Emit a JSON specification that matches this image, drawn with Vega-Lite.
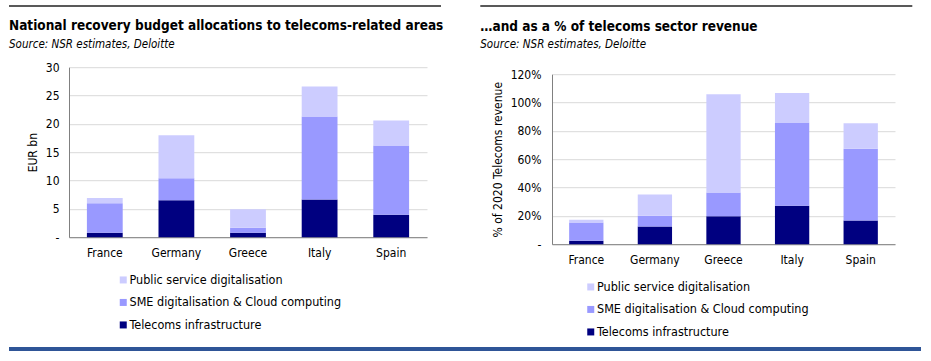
{
  "$schema": "https://vega.github.io/schema/vega-lite/v6.json",
  "padding": {"left": 7, "top": 5, "right": 0, "bottom": 0},
  "datasets": {
    "budget": [
      {"country": "France", "category": "Telecoms infrastructure", "value": 0.8},
      {"country": "France", "category": "SME digitalisation & Cloud computing", "value": 5.2},
      {"country": "France", "category": "Public service digitalisation", "value": 0.9},
      {"country": "Germany", "category": "Telecoms infrastructure", "value": 6.5},
      {"country": "Germany", "category": "SME digitalisation & Cloud computing", "value": 3.9},
      {"country": "Germany", "category": "Public service digitalisation", "value": 7.6},
      {"country": "Greece", "category": "Telecoms infrastructure", "value": 0.8},
      {"country": "Greece", "category": "SME digitalisation & Cloud computing", "value": 0.85},
      {"country": "Greece", "category": "Public service digitalisation", "value": 3.3},
      {"country": "Italy", "category": "Telecoms infrastructure", "value": 6.65},
      {"country": "Italy", "category": "SME digitalisation & Cloud computing", "value": 14.65},
      {"country": "Italy", "category": "Public service digitalisation", "value": 5.3},
      {"country": "Spain", "category": "Telecoms infrastructure", "value": 3.95},
      {"country": "Spain", "category": "SME digitalisation & Cloud computing", "value": 12.25},
      {"country": "Spain", "category": "Public service digitalisation", "value": 4.4}
    ],
    "share": [
      {"country": "France", "category": "Telecoms infrastructure", "value": 2.4},
      {"country": "France", "category": "SME digitalisation & Cloud computing", "value": 12.9},
      {"country": "France", "category": "Public service digitalisation", "value": 1.9},
      {"country": "Germany", "category": "Telecoms infrastructure", "value": 12.5},
      {"country": "Germany", "category": "SME digitalisation & Cloud computing", "value": 7.5},
      {"country": "Germany", "category": "Public service digitalisation", "value": 15.1},
      {"country": "Greece", "category": "Telecoms infrastructure", "value": 19.8},
      {"country": "Greece", "category": "SME digitalisation & Cloud computing", "value": 16.7},
      {"country": "Greece", "category": "Public service digitalisation", "value": 69.4},
      {"country": "Italy", "category": "Telecoms infrastructure", "value": 27.1},
      {"country": "Italy", "category": "SME digitalisation & Cloud computing", "value": 58.8},
      {"country": "Italy", "category": "Public service digitalisation", "value": 20.9},
      {"country": "Spain", "category": "Telecoms infrastructure", "value": 16.7},
      {"country": "Spain", "category": "SME digitalisation & Cloud computing", "value": 50.6},
      {"country": "Spain", "category": "Public service digitalisation", "value": 18.1}
    ],
    "ends": [{"v0": 0, "v1": 1}]
  },
  "concat": [
    {
      "concat": [
        {
          "concat": [
            {
              "width": 372, "height": 2,
              "data": {"name": "ends"},
              "view": {"fill": "#595959", "stroke": null},
              "mark": {"type": "rule", "strokeWidth": 2, "color": "#595959"},
              "encoding": {
                "x": {"field": "v0", "type": "quantitative", "scale": {"domain": [0, 1], "range": [-60, 372]}, "axis": null},
                "x2": {"field": "v1"}
              }
            },
            {
              "width": 358, "height": 170,
              "data": {"name": "budget"},
              "title": {
                "text": "National recovery budget allocations to telecoms-related areas",
                "subtitle": "Source: NSR estimates, Deloitte",
                "anchor": "start", "frame": "group", "dx": -60, "offset": 11
              },
              "mark": {"type": "bar"},
              "encoding": {
                "x": {"field": "country", "type": "nominal", "sort": ["France", "Germany", "Greece", "Italy", "Spain"],
                  "scale": {"paddingInner": 0.5, "paddingOuter": 0.25},
                  "axis": {"title": null, "labelAngle": 0, "ticks": false, "labelPadding": 10, "grid": false}},
                "y": {"field": "value", "type": "quantitative", "stack": "zero",
                  "scale": {"domain": [0, 30], "nice": false},
                  "axis": {"title": "EUR bn", "values": [0, 5, 10, 15, 20, 25, 30],
                    "labelExpr": "datum.value === 0 ? '-' : datum.label", "ticks": false, "labelPadding": 10, "titlePadding": 6}},
                "color": {"field": "category", "type": "nominal",
                  "scale": {"domain": ["Public service digitalisation", "SME digitalisation & Cloud computing", "Telecoms infrastructure"],
                    "range": ["#CCCCFF", "#9999FF", "#000080"]},
                  "legend": {"legendX": 48, "legendY": 206.5}},
                "order": {"field": "category", "sort": "descending"}
              }
            }
          ],
          "columns": 1, "spacing": 12.2, "align": "none",
          "resolve": {"scale": {"x": "independent", "y": "independent", "color": "independent"}, "legend": {"color": "independent"}}
        },
        {
          "concat": [
            {
              "width": 360, "height": 2,
              "data": {"name": "ends"},
              "view": {"fill": "#595959", "stroke": null},
              "mark": {"type": "rule", "strokeWidth": 2, "color": "#595959"},
              "encoding": {
                "x": {"field": "v0", "type": "quantitative", "scale": {"domain": [0, 1], "range": [-71.7, 360.3]}, "axis": null},
                "x2": {"field": "v1"}
              }
            },
            {
              "width": 343, "height": 170,
              "data": {"name": "share"},
              "title": {
                "text": "…and as a % of telecoms sector revenue",
                "subtitle": "Source: NSR estimates, Deloitte",
                "anchor": "start", "frame": "group", "dx": -71.7, "offset": 17.5
              },
              "mark": {"type": "bar"},
              "encoding": {
                "x": {"field": "country", "type": "nominal", "sort": ["France", "Germany", "Greece", "Italy", "Spain"],
                  "scale": {"paddingInner": 0.5, "paddingOuter": 0.25},
                  "axis": {"title": null, "labelAngle": 0, "ticks": false, "labelPadding": 10, "grid": false}},
                "y": {"field": "value", "type": "quantitative", "stack": "zero",
                  "scale": {"domain": [0, 120], "nice": false},
                  "axis": {"title": "% of 2020 Telecoms revenue", "values": [0, 20, 40, 60, 80, 100, 120],
                    "labelExpr": "datum.value === 0 ? '-' : datum.value + '%'", "ticks": false, "labelPadding": 11, "titlePadding": 6}},
                "color": {"field": "category", "type": "nominal",
                  "scale": {"domain": ["Public service digitalisation", "SME digitalisation & Cloud computing", "Telecoms infrastructure"],
                    "range": ["#CCCCFF", "#9999FF", "#000080"]},
                  "legend": {"legendX": 32.5, "legendY": 206.5}},
                "order": {"field": "category", "sort": "descending"}
              }
            }
          ],
          "columns": 1, "spacing": 12.2, "align": "none",
          "resolve": {"scale": {"x": "independent", "y": "independent", "color": "independent"}, "legend": {"color": "independent"}}
        }
      ],
      "columns": 2, "spacing": 35, "align": "none",
      "resolve": {"scale": {"x": "independent", "y": "independent", "color": "independent"}, "legend": {"color": "independent"}}
    },
    {
      "width": 852, "height": 4,
      "data": {"name": "ends"},
      "mark": {"type": "rule", "strokeWidth": 4, "color": "#2F5597"},
      "encoding": {
        "x": {"field": "v0", "type": "quantitative", "scale": {"domain": [0, 1], "range": [-60, 852]}, "axis": null},
        "x2": {"field": "v1"}
      }
    }
  ],
  "columns": 1, "spacing": 8, "align": "none",
  "resolve": {"scale": {"x": "independent", "y": "independent", "color": "independent"}, "legend": {"color": "independent"}},
  "config": {
    "font": "DejaVu Sans Condensed",
    "view": {"stroke": null},
    "title": {"fontSize": 13.5, "fontWeight": "bold", "color": "#000000", "subtitleFontSize": 11.5, "subtitleFontStyle": "italic", "subtitleColor": "#000000", "subtitlePadding": 6},
    "axis": {"labelFontSize": 12, "titleFontSize": 12, "titleFontWeight": "normal", "labelColor": "#000000", "titleColor": "#000000", "domainColor": "#808080", "gridColor": "#D9D9D9"},
    "legend": {"orient": "none", "title": null, "symbolType": "square", "symbolSize": 49, "labelFontSize": 12.5, "rowPadding": 9.5, "labelOffset": 0, "padding": 0, "direction": "vertical", "symbolStrokeWidth": 0, "labelColor": "#000000", "labelLimit": 0}
  }
}
